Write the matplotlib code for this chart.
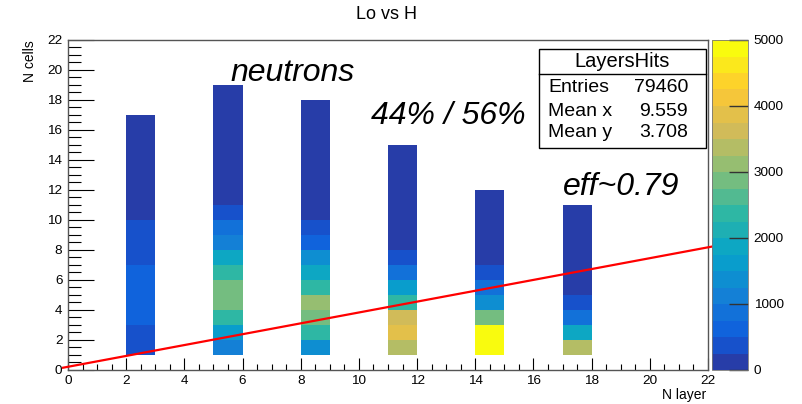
import matplotlib
matplotlib.use("Agg")
import matplotlib.pyplot as plt
import numpy as np
from matplotlib.colors import ListedColormap, BoundaryNorm
from matplotlib.patches import Rectangle
from matplotlib.ticker import MultipleLocator

plt.rcParams['font.family'] = ['Liberation Sans', 'DejaVu Sans']

# layer positions (x bins) and counts per cell from N cells = 1 upward
layers = [2, 5, 8, 11, 14, 17]
cells_l2 = [375, 375, 625, 625, 625, 625, 375, 375, 375, 125, 125, 125, 125, 125, 125, 125]
cells_l5 = [1125, 1625, 2375, 2875, 2875, 2375, 1875, 1125, 875, 375,
            125, 125, 125, 125, 125, 125, 125, 125]
cells_l8 = [1375, 2375, 2875, 3125, 2375, 1875, 1375, 625, 375,
            125, 125, 125, 125, 125, 125, 125, 125]
cells_l11 = [3375, 3875, 3625, 2375, 1625, 875, 375, 125, 125, 125, 125, 125, 125, 125]
cells_l14 = [4875, 4875, 2875, 1375, 875, 375, 125, 125, 125, 125, 125]
cells_l17 = [3375, 1875, 875, 375, 125, 125, 125, 125, 125, 125]
columns = [cells_l2, cells_l5, cells_l8, cells_l11, cells_l14, cells_l17]

# fit line
line_x = [-0.17, 22.2]
line_y = [0.12, 8.23]

stats_labels = ["Entries", "Mean x", "Mean y"]
stats_values = ["79460", "9.559", "3.708"]

# build the 2D histogram
nbins = 22
H = np.zeros((nbins, nbins))
for lx, col in zip(layers, columns):
    for i, v in enumerate(col):
        H[1 + i, lx] = v
H = np.ma.masked_equal(H, 0)

# ROOT kBird palette, 20 contour levels
stops = [0.0, 0.125, 0.25, 0.375, 0.5, 0.625, 0.75, 0.875, 1.0]
red = [0.2082, 0.0592, 0.0780, 0.0232, 0.1802, 0.5301, 0.8186, 0.9956, 0.9764]
green = [0.1664, 0.3599, 0.5041, 0.6419, 0.7178, 0.7492, 0.7328, 0.7862, 0.9832]
blue = [0.5293, 0.8684, 0.8385, 0.7914, 0.6425, 0.4662, 0.3499, 0.1968, 0.0539]
ndiv = 20
cols = []
for i in range(ndiv):
    f = int((i + 0.99) * 255 / ndiv) / 254
    cols.append((np.interp(f, stops, red), np.interp(f, stops, green), np.interp(f, stops, blue)))
cmap = ListedColormap(cols)
levels = np.linspace(0, 5000, ndiv + 1)
norm = BoundaryNorm(levels, ndiv)

W, Hpx = 802, 404
fig = plt.figure(figsize=(W / 100, Hpx / 100), dpi=100)

def fx(px):
    return px / W

def fy(py):
    return 1 - py / Hpx

ax = fig.add_axes([fx(68), fy(369.5), fx(708) - fx(68), fy(40) - fy(369.5)])
edges = np.arange(nbins + 1)
ax.pcolormesh(edges, edges, H, cmap=cmap, norm=norm)
ax.plot(line_x, line_y, color='#ff0000', lw=1.6, clip_on=False, zorder=5)
ax.set_xlim(0, 22)
ax.set_ylim(0, 22)
ax.xaxis.set_major_locator(MultipleLocator(2))
ax.xaxis.set_minor_locator(MultipleLocator(0.5))
ax.yaxis.set_major_locator(MultipleLocator(2))
ax.yaxis.set_minor_locator(MultipleLocator(0.5))
ax.tick_params(axis='x', which='major', direction='in', length=9, width=0.8, labelsize=9.7, pad=4)
ax.tick_params(axis='x', which='minor', direction='in', length=4.5, width=0.8)
ax.tick_params(axis='y', which='major', direction='in', length=19, width=0.8, labelsize=9.7, pad=4)
ax.tick_params(axis='y', which='minor', direction='in', length=9, width=0.8)
for s in ax.spines.values():
    s.set_color('#555555')
    s.set_linewidth(1)

# colorbar
cax = fig.add_axes([fx(712), fy(370), fx(748) - fx(712), fy(40) - fy(370)])
cb = fig.colorbar(matplotlib.cm.ScalarMappable(norm=norm, cmap=cmap), cax=cax,
                  ticks=[0, 1000, 2000, 3000, 4000, 5000])
cb.outline.set_linewidth(0.6)
cb.outline.set_edgecolor('#777777')
cax.tick_params(direction='in', length=14, width=1, labelsize=9.7, pad=4, color='#333333')
cb.ax.minorticks_off()

# texts
fig.text(fx(387), fy(19), "Lo vs H", fontsize=13, ha='center', va='baseline')
fig.text(fx(706), fy(399), "N layer", fontsize=10, ha='right', va='baseline')
fig.text(fx(30), fy(40), "N cells", fontsize=10, ha='center', va='top', rotation=90)
fig.text(fx(230), fy(81), "neutrons", fontsize=23, style='italic', va='baseline')
fig.text(fx(371), fy(124), "44% / 56%", fontsize=23, style='italic', va='baseline')
fig.text(fx(563), fy(195), "eff~0.79", fontsize=23, style='italic', va='baseline')

# stats box
bx0, by0, bx1, by1 = 539, 49, 706, 148
fig.patches.append(Rectangle((fx(bx0), fy(by1)), fx(bx1) - fx(bx0), fy(by0) - fy(by1),
                             transform=fig.transFigure, facecolor='white',
                             edgecolor='black', lw=1, zorder=10))
fig.add_artist(plt.Line2D([fx(bx0), fx(bx1)], [fy(74), fy(74)], color='black', lw=1, zorder=11))
fig.text(fx((bx0 + bx1) / 2), fy(61.5), "LayersHits", fontsize=14.5, ha='center', va='center', zorder=12)
for i, (lab, val) in enumerate(zip(stats_labels, stats_values)):
    yb = [92, 116, 137][i]
    fig.text(fx(548), fy(yb), lab, fontsize=14, va='baseline', zorder=12)
    fig.text(fx(688), fy(yb), val, fontsize=14, ha='right', va='baseline', zorder=12)

fig.savefig("out.png", dpi=100)
